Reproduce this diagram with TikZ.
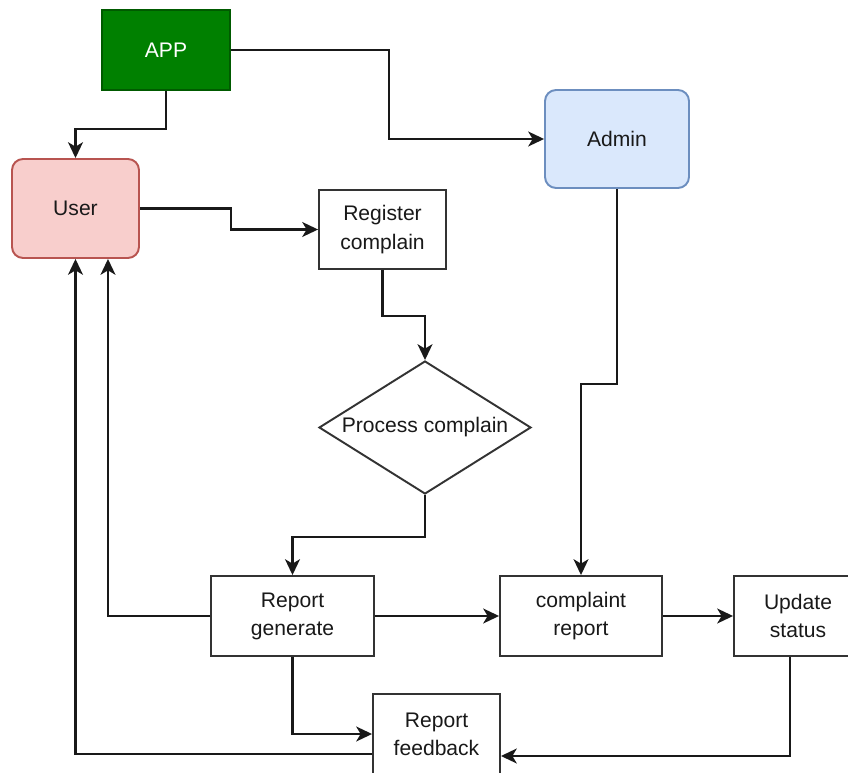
\documentclass[tikz,border=0pt]{standalone}
\usepackage{fontspec}
\setmainfont{Liberation Sans}
\usetikzlibrary{shapes.geometric,arrows.meta}
\definecolor{appgreen}{RGB}{0,128,0}
\definecolor{appborder}{RGB}{0,90,0}
\definecolor{userfill}{HTML}{F8CECC}
\definecolor{userdraw}{HTML}{B85450}
\definecolor{adminfill}{HTML}{DAE8FC}
\definecolor{admindraw}{HTML}{6C8EBF}

\begin{document}
\begin{tikzpicture}[x=0.02cm,y=-0.02cm]
      \tikzstyle{every node}=[font=\fontsize{12}{16}\selectfont, align=center, text=black!90, line width=1.1pt, inner sep=0pt]
      \tikzstyle{box}=[rectangle, draw=black!80, fill=white, minimum height=1.6cm]
      \tikzstyle{actor}=[rectangle, rounded corners=0.22cm, minimum width=2.54cm, minimum height=1.98cm]
      \tikzstyle{link}=[draw=black!90, line width=1.2pt, -{Stealth[length=9pt,width=8.5pt,inset=2.5pt]}]
      \clip (0,0) rectangle (848,773);
      \node[rectangle, fill=appgreen, draw=appborder, text=white, minimum width=2.56cm, minimum height=1.6cm] (app) at (166,50) {APP};
      \node[actor, fill=userfill, draw=userdraw] (user) at (75.5,208.5) {User};
      \node[actor, fill=adminfill, draw=admindraw, minimum width=2.88cm, minimum height=1.96cm] (admin) at (617,139) {Admin};
      \node[box, minimum width=2.54cm, minimum height=1.58cm] (register) at (382.5,229.5) {Register\\complain};
      \node[diamond, draw=black!80, fill=white, aspect=1.6, minimum width=4.24cm, minimum height=2.66cm] (process) at (425,427.5) {Process complain};
      \node[box, minimum width=3.26cm] (repgen) at (292.5,616) {Report\\generate};
      \node[box, minimum width=3.24cm] (complaint) at (581,616) {complaint\\report};
      \node[box, minimum width=2.56cm] (update) at (798,616) {Update\\status};
      \node[box, minimum width=2.54cm] (feedback) at (436.5,734) {Report\\feedback};

      \path[link] (app.south) -- ++(0,38) -| (user.north);
      \path[link] (app.east) -- ++(158,0) |- (admin.west);
      \path[link] (user.east) -- ++(91,0) |- (register.west);
      \path[link] (register.south) -- ++(0,46) -| (process.north);
      \path[link] (process.south) -- ++(0,42) -| (repgen.north);
      \path[link] (admin.south) -- ++(0,195) -| (complaint.north);
      \path[link] (repgen) -- (complaint);
      \path[link] (complaint) -- (update);
      \path[link] (repgen.west) -| ([xshift=0.65cm]user.south);
      \path[link] ([yshift=-0.4cm]feedback.west) -| (user.south);
      \path[link] (repgen.south) |- (feedback.west);
      \path[link] ([xshift=-0.16cm]update.south) |- ([yshift=-0.44cm]feedback.east);
\end{tikzpicture}
\end{document}
